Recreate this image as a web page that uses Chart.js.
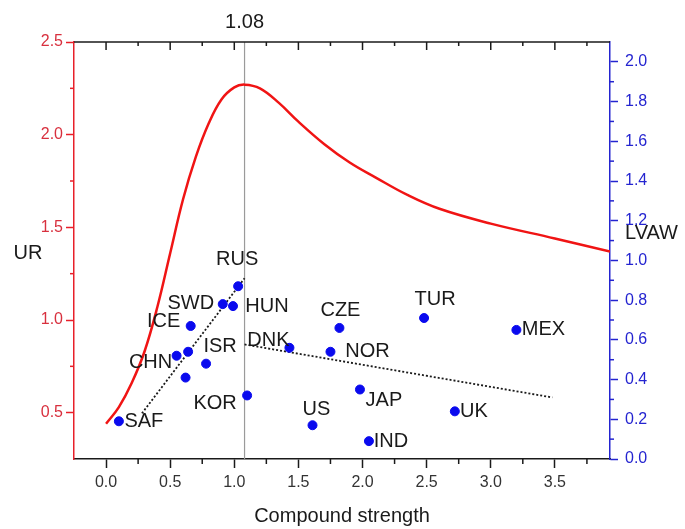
<!DOCTYPE html>
<html>
<head>
<meta charset="utf-8">
<script src="https://cdn.jsdelivr.net/npm/chart.js@4.4.1/dist/chart.umd.min.js"></script>
<style>
  html, body { margin: 0; padding: 0; background: #fff; }
  #wrap { width: 685px; height: 529px; position: relative; }
</style>
</head>
<body>
<div id="wrap"><canvas id="chart"></canvas></div>
<script>
'use strict';

// ─── Data ────────────────────────────────────────────────
const countries = ['SAF', 'CHN', '', 'ICE', 'ISR', '', 'SWD', 'HUN', 'RUS', 'KOR',
                   'DNK', 'US', 'NOR', 'CZE', 'JAP', 'IND', 'TUR', 'UK', 'MEX'];
const strength  = [0.10, 0.55, 0.64, 0.66, 0.78, 0.62, 0.91, 0.99, 1.03, 1.10,
                   1.43, 1.61, 1.75, 1.82, 1.98, 2.05, 2.48, 2.72, 3.20];
const lvaw      = [0.19, 0.52, 0.54, 0.67, 0.48, 0.41, 0.78, 0.77, 0.87, 0.32,
                   0.56, 0.17, 0.54, 0.66, 0.35, 0.09, 0.71, 0.24, 0.65];

// UR curve (left axis)
const curveX  = [0, 0.1, 0.2, 0.3, 0.4, 0.5, 0.6, 0.7, 0.8, 0.9, 1.0, 1.08,
                 1.2, 1.35, 1.5, 1.7, 1.9, 2.1, 2.35, 2.6, 3.0, 3.5, 3.93];
const curveUR = [0.44, 0.53, 0.66, 0.83, 1.07, 1.36, 1.65, 1.88, 2.06, 2.19, 2.255, 2.27,
                 2.25, 2.17, 2.07, 1.95, 1.85, 1.77, 1.675, 1.60, 1.52, 1.44, 1.37];

// dotted trend lines (right axis)
const trendLowX  = [0.28, 1.08];
const trendLowY  = [0.23, 0.91];
const trendHighX = [1.08, 3.48];
const trendHighY = [0.577, 0.31];

const threshold = 1.08;

// tick values
const xTicks      = [0, 0.5, 1.0, 1.5, 2.0, 2.5, 3.0, 3.5];
const xMinorTicks = [0.25, 0.75, 1.25, 1.75, 2.25, 2.75, 3.25, 3.75];
const urTicks      = [0.5, 1.0, 1.5, 2.0, 2.5];
const urMinorTicks = [0.75, 1.25, 1.75, 2.25];
const lvawTicks      = [0, 0.2, 0.4, 0.6, 0.8, 1.0, 1.2, 1.4, 1.6, 1.8, 2.0];
const lvawMinorTicks = [0.1, 0.3, 0.5, 0.7, 0.9, 1.1, 1.3, 1.5, 1.7, 1.9];

// label placement relative to each point (px)
const labelOffsets = [[25, 0], [-26, 7], [0, 0], [-27, -4], [14, -17], [0, 0], [-32, -1], [34, 0],
                      [-1, -27], [-32, 8], [-21, -7], [4, -16], [37, 0], [1, -17], [24, 11],
                      [22, 0], [11, -19], [19, 0], [27, 0]];

// ─── Styles ──────────────────────────────────────────────
const FONT = "'Liberation Sans', Arial, sans-serif";
const RED = '#e8202a';
const RED_TXT = '#d8303e';
const BLUE = '#2424d0';
const DOT = '#0a0aee';
const INK = '#1a1a1a';

const toXY = (xs, ys) => xs.map((v, i) => ({ x: v, y: ys[i] }));

// ─── Extra drawing: top frame, minor ticks, loose titles, point labels ───
const framePlugin = {
  id: 'frame',
  afterDraw(chart) {
    const { ctx: c, chartArea: { top, bottom, left, right }, scales: { x, y, y1 } } = chart;
    const seg = (x0, y0, x1, y1_) => { c.beginPath(); c.moveTo(x0, y0); c.lineTo(x1, y1_); c.stroke(); };
    c.save();
    c.lineWidth = 1.5;
    c.strokeStyle = INK;
    seg(left, top, right, top);
    xTicks.forEach(v => { const p = x.getPixelForValue(v); seg(p, top, p, top + 8); });
    xMinorTicks.forEach(v => {
      const p = x.getPixelForValue(v);
      seg(p, top, p, top + 4);
      seg(p, bottom, p, bottom + 5);
    });
    c.strokeStyle = RED;
    urMinorTicks.forEach(v => { const p = y.getPixelForValue(v); seg(left - 4, p, left, p); });
    c.strokeStyle = BLUE;
    lvawMinorTicks.forEach(v => { const p = y1.getPixelForValue(v); seg(right, p, right + 4, p); });

    c.fillStyle = INK;
    c.font = `20px ${FONT}`;
    c.textBaseline = 'middle';
    c.textAlign = 'center';
    c.fillText('UR', 28, 253);
    c.fillText('1.08', x.getPixelForValue(threshold), 22);
    c.textAlign = 'left';
    c.fillText('LVAW', 625, 233);

    // country labels
    c.textAlign = 'center';
    countries.forEach((name, i) => {
      if (!name) return;
      const px = x.getPixelForValue(strength[i]) + labelOffsets[i][0];
      const py = y1.getPixelForValue(lvaw[i]) + labelOffsets[i][1];
      c.fillText(name, px, py);
    });
    c.restore();
  },
};

Chart.register(framePlugin);

new Chart(document.getElementById('chart'), {
  type: 'scatter',
  data: {
    datasets: [
      {
        label: 'LVAW',
        data: toXY(strength, lvaw),
        yAxisID: 'y1',
        backgroundColor: DOT,
        borderColor: DOT,
        pointRadius: 4.5,
        order: 1,
      },
      {
        label: 'UR',
        data: toXY(curveX, curveUR),
        yAxisID: 'y',
        showLine: true,
        borderColor: '#f01414',
        borderWidth: 2.5,
        pointRadius: 0,
        tension: 0.4,
        order: 3,
      },
      {
        label: 'trend low',
        data: toXY(trendLowX, trendLowY),
        yAxisID: 'y1',
        showLine: true,
        borderColor: INK,
        borderWidth: 1.8,
        borderDash: [2, 2],
        pointRadius: 0,
        order: 2,
      },
      {
        label: 'trend high',
        data: toXY(trendHighX, trendHighY),
        yAxisID: 'y1',
        showLine: true,
        borderColor: INK,
        borderWidth: 1.8,
        borderDash: [2, 2],
        pointRadius: 0,
        order: 2,
      },
      {
        label: 'threshold',
        data: [{ x: threshold, y: 0.25 }, { x: threshold, y: 2.5 }],
        yAxisID: 'y',
        showLine: true,
        borderColor: '#9a9a9a',
        borderWidth: 1.2,
        pointRadius: 0,
        order: 5,
      },
    ],
  },
  options: {
    responsive: true,
    maintainAspectRatio: false,
    animation: false,
    layout: { padding: { top: 42, left: 0, right: 0, bottom: 0 } },
    plugins: { legend: { display: false }, tooltip: { enabled: false } },
    scales: {
      x: {
        type: 'linear',
        position: 'bottom',
        min: -0.25,
        max: 3.93,
        afterBuildTicks: s => { s.ticks = xTicks.map(v => ({ value: v })); },
        afterFit: s => { s.height = 70; },
        ticks: {
          callback: v => v.toFixed(1),
          color: '#333',
          font: { family: FONT, size: 16 },
          padding: 5,
          maxRotation: 0,
          autoSkip: false,
        },
        grid: { drawOnChartArea: false, tickLength: 9, tickColor: INK, tickWidth: 1.5 },
        border: { color: INK, width: 1.5 },
        title: {
          display: true,
          text: 'Compound strength',
          color: INK,
          font: { family: FONT, size: 20 },
          padding: { top: 0, bottom: 1 },
        },
      },
      y: {
        type: 'linear',
        position: 'left',
        min: 0.25,
        max: 2.5,
        afterBuildTicks: s => { s.ticks = urTicks.map(v => ({ value: v })); },
        afterFit: s => { s.width = 74; },
        ticks: {
          callback: v => v.toFixed(1),
          color: RED_TXT,
          font: { family: FONT, size: 16 },
          padding: 3,
        },
        grid: { drawOnChartArea: false, tickLength: 8, tickColor: RED, tickWidth: 1.5 },
        border: { color: RED, width: 1.5 },
      },
      y1: {
        type: 'linear',
        position: 'right',
        min: 0,
        max: 2.1,
        afterBuildTicks: s => { s.ticks = lvawTicks.map(v => ({ value: v })); },
        afterFit: s => { s.width = 75; },
        ticks: {
          callback: v => v.toFixed(1),
          color: BLUE,
          font: { family: FONT, size: 16 },
          padding: 7,
        },
        grid: { drawOnChartArea: false, tickLength: 8, tickColor: BLUE, tickWidth: 1.5 },
        border: { color: BLUE, width: 1.5 },
      },
    },
  },
});
</script>
</body>
</html>
